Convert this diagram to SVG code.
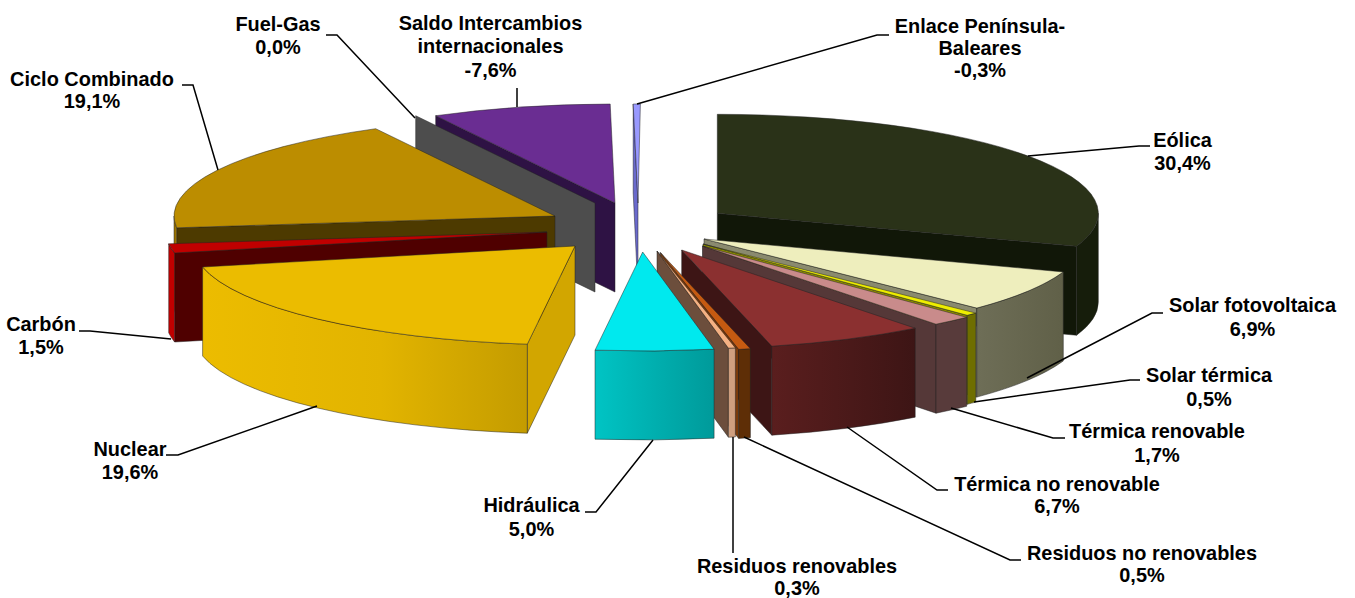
<svg xmlns="http://www.w3.org/2000/svg" width="1355" height="598" viewBox="0 0 1355 598">
<style>
.f{stroke:#222;stroke-width:0.7;stroke-linejoin:round;stroke-opacity:0.7}
.lbl{font-family:"Liberation Sans",Arial,"DejaVu Sans",sans-serif;font-weight:bold;font-size:21px;text-anchor:middle;fill:#000}
.ld{fill:none;stroke:#000;stroke-width:1.5;stroke-linejoin:miter}
</style>
<defs>
<linearGradient id="gNuc" x1="0" y1="0" x2="1" y2="0"><stop offset="0" stop-color="#ecbc00"/><stop offset="0.55" stop-color="#e2b400"/><stop offset="1" stop-color="#c49c00"/></linearGradient>
<linearGradient id="gHid" x1="0" y1="0" x2="1" y2="0"><stop offset="0" stop-color="#00c4c4"/><stop offset="1" stop-color="#009a9a"/></linearGradient>
<linearGradient id="gTnr" x1="0" y1="0" x2="1" y2="0"><stop offset="0" stop-color="#5a1e1e"/><stop offset="1" stop-color="#3d1515"/></linearGradient>
<linearGradient id="gSfv" x1="0" y1="0" x2="1" y2="0"><stop offset="0" stop-color="#6e6e57"/><stop offset="1" stop-color="#606048"/></linearGradient>
</defs>

<g id="slice-saldo">
<path class="f" fill="#2e1244" d="M615,203 L435.7,115.7 L435.7,204.7 L615,292 Z"/>
<path class="f" fill="#6a2d92" d="M615,203 L435.7,115.7 A381,99 0 0 1 610.2,104 Z"/>
</g>
<g id="slice-fuelgas">
<path class="f" fill="#4d4d4d" d="M595,203 L415.7,115.7 L415.7,204.7 L595,292 Z"/>
</g>
<g id="slice-ciclo">
<path class="f" fill="#4d3a00" d="M555,216 L176.7,227.8 L176.7,316.8 L555,305 Z"/>
<path class="f" fill="#9b7400" d="M176.7,227.8 A381,99 0 0 1 174,216 L174,305 A381,99 0 0 0 176.7,316.8 Z"/>
<path class="f" fill="#bc8d00" d="M555,216 L176.7,227.8 A381,99 0 0 1 375.7,128.7 Z"/>
</g>
<g id="slice-carbon">
<path class="f" fill="#4f0000" d="M547,232 L174.6,253 L174.6,342 L547,321 Z"/>
<path class="f" fill="#c00000" d="M174.6,253 A381,99 0 0 1 168.7,243.8 L168.7,332.8 A381,99 0 0 0 174.6,342 Z"/>
<path class="f" fill="#c00000" d="M547,232 L174.6,253 A381,99 0 0 1 168.7,243.8 Z"/>
</g>
<g id="slice-nuclear">
<path class="f" fill="#d2a600" d="M575,246 L527.3,344.2 L527.3,433.2 L575,335 Z"/>
<path class="f" fill="url(#gNuc)" d="M527.3,344.2 A381,99 0 0 1 202.6,267 L202.6,356 A381,99 0 0 0 527.3,433.2 Z"/>
<path class="f" fill="#ebbc00" d="M575,246 L527.3,344.2 A381,99 0 0 1 202.6,267 Z"/>
</g>
<g id="slice-enlace">
<path class="f" fill="#6a6acc" d="M638,203 L633.2,104 L633.2,193 L638,292 Z"/>
<path class="f" fill="#9999ff" d="M638,203 L633.2,104 A381,99 0 0 1 640.4,104 Z"/>
</g>
<g id="slice-eolica">
<path class="f" fill="#111708" d="M717.3,213.3 L1076.6,246.25 L1076.6,335.25 L717.3,302.3 Z"/>
<path class="f" fill="#161d0b" d="M1098.3,213.3 A381,99 0 0 1 1076.6,246.25 L1076.6,335.25 A381,99 0 0 0 1098.3,302.3 Z"/>
<path class="f" fill="#2a3218" d="M717.3,213.3 L717.3,114.3 A381,99 0 0 1 1076.6,246.25 Z"/>
</g>
<g id="slice-solarfv">
<path class="f" fill="#8a8a6e" d="M704,239 L976.8,308.1 L976.8,397.1 L704,328 Z"/>
<path class="f" fill="url(#gSfv)" d="M1063.3,271.95 A381,99 0 0 1 976.8,308.1 L976.8,397.1 A381,99 0 0 0 1063.3,360.95 Z"/>
<path class="f" fill="#eeeebd" d="M704,239 L1063.3,271.95 A381,99 0 0 1 976.8,308.1 Z"/>
</g>
<g id="slice-solartermica">
<path class="f" fill="#8a8a00" d="M703,244 L967.2,315.3 L967.2,404.3 L703,333 Z"/>
<path class="f" fill="#6e6e00" d="M975.8,313.1 A381,99 0 0 1 967.2,315.3 L967.2,404.3 A381,99 0 0 0 975.8,402.1 Z"/>
<path class="f" fill="#eeee00" d="M703,244 L975.8,313.1 A381,99 0 0 1 967.2,315.3 Z"/>
</g>
<g id="slice-termicarenovable">
<path class="f" fill="#553838" d="M702.5,246 L936,324.2 L936,413.2 L702.5,335 Z"/>
<path class="f" fill="#583b3b" d="M966.7,317.3 A381,99 0 0 1 936,324.2 L936,413.2 A381,99 0 0 0 966.7,406.3 Z"/>
<path class="f" fill="#c98b8b" d="M702.5,246 L966.7,317.3 A381,99 0 0 1 936,324.2 Z"/>
</g>
<g id="slice-termicanorenovable">
<path class="f" fill="#3d1515" d="M681.7,250 L771.8,346.2 L771.8,435.2 L681.7,339 Z"/>
<path class="f" fill="url(#gTnr)" d="M915.2,328.2 A381,99 0 0 1 771.8,346.2 L771.8,435.2 A381,99 0 0 0 915.2,417.2 Z"/>
<path class="f" fill="#8b3030" d="M681.7,250 L915.2,328.2 A381,99 0 0 1 771.8,346.2 Z"/>
</g>
<g id="slice-residuosnorenovables">
<path class="f" fill="#7a3a0a" d="M660.3,252.5 L738.7,349.4 L738.7,438.4 L660.3,341.5 Z"/>
<path class="f" fill="#5e2e06" d="M750.4,348.7 A381,99 0 0 1 738.7,349.4 L738.7,438.4 A381,99 0 0 0 750.4,437.7 Z"/>
<path class="f" fill="#c55a11" d="M660.3,252.5 L750.4,348.7 A381,99 0 0 1 738.7,349.4 Z"/>
</g>
<g id="slice-residuosrenovables">
<path class="f" fill="#6c4e3c" d="M657,251 L728.4,348.2 L728.4,437.2 L657,340 Z"/>
<path class="f" fill="#cf9f7f" d="M735.4,347.9 A381,99 0 0 1 728.4,348.2 L728.4,437.2 A381,99 0 0 0 735.4,436.9 Z"/>
<path class="f" fill="#f4b183" d="M657,251 L735.4,347.9 A381,99 0 0 1 728.4,348.2 Z"/>
</g>
<g id="slice-hidraulica">
<path class="f" fill="url(#gHid)" d="M714.1,349.2 A381,99 0 0 1 595,350.2 L595,439.2 A381,99 0 0 0 714.1,438.2 Z"/>
<path class="f" fill="#00e9ee" d="M642.7,252 L714.1,349.2 A381,99 0 0 1 595,350.2 Z"/>
</g>

<g id="connectors">
<path class="ld" d="M326,35 L337,35 L415,118"/>
<path class="ld" d="M517,88 L517,107"/>
<path class="ld" d="M637,104 L877,35 L889,35"/>
<path class="ld" d="M182,85 L193,85 L218,170"/>
<path class="ld" d="M1028,156 L1139,146 L1150,146"/>
<path class="ld" d="M1027,378 L1152,313 L1163,313"/>
<path class="ld" d="M974,402 L1130,380 L1140,380"/>
<path class="ld" d="M951,408 L1053,438 L1065,438"/>
<path class="ld" d="M847,427 L937,490 L948,490"/>
<path class="ld" d="M744,437 L1010,560 L1021,560"/>
<path class="ld" d="M733,437 L733,553"/>
<path class="ld" d="M653,440 L596,512 L585,512"/>
<path class="ld" d="M317,406 L178,455 L166,455"/>
<path class="ld" d="M171,339 L90,331 L79,331"/>
</g>

<g id="label-fuelgas"><text class="lbl" x="278" y="31" textLength="85.2" lengthAdjust="spacingAndGlyphs">Fuel-Gas</text><text class="lbl" x="278" y="54" textLength="45.4" lengthAdjust="spacingAndGlyphs">0,0%</text></g>
<g id="label-saldo"><text class="lbl" x="490.5" y="30" textLength="183.6" lengthAdjust="spacingAndGlyphs">Saldo Intercambios</text><text class="lbl" x="490.5" y="53" textLength="146" lengthAdjust="spacingAndGlyphs">internacionales</text><text class="lbl" x="490.5" y="76.5" textLength="52" lengthAdjust="spacingAndGlyphs">-7,6%</text></g>
<g id="label-enlace"><text class="lbl" x="980" y="32.5" textLength="170.3" lengthAdjust="spacingAndGlyphs">Enlace Península-</text><text class="lbl" x="980" y="55" textLength="83" lengthAdjust="spacingAndGlyphs">Baleares</text><text class="lbl" x="980" y="77" textLength="52" lengthAdjust="spacingAndGlyphs">-0,3%</text></g>
<g id="label-ciclo"><text class="lbl" x="92" y="86" textLength="163.8" lengthAdjust="spacingAndGlyphs">Ciclo Combinado</text><text class="lbl" x="92" y="108" textLength="56.4" lengthAdjust="spacingAndGlyphs">19,1%</text></g>
<g id="label-eolica"><text class="lbl" x="1182.5" y="146.5" textLength="58.6" lengthAdjust="spacingAndGlyphs">Eólica</text><text class="lbl" x="1182.5" y="169.5" textLength="56.4" lengthAdjust="spacingAndGlyphs">30,4%</text></g>
<g id="label-solarfv"><text class="lbl" x="1252.5" y="312" textLength="167" lengthAdjust="spacingAndGlyphs">Solar fotovoltaica</text><text class="lbl" x="1252.5" y="336" textLength="45.4" lengthAdjust="spacingAndGlyphs">6,9%</text></g>
<g id="label-solartermica"><text class="lbl" x="1209" y="381.5" textLength="126.1" lengthAdjust="spacingAndGlyphs">Solar térmica</text><text class="lbl" x="1209" y="405.5" textLength="45.4" lengthAdjust="spacingAndGlyphs">0,5%</text></g>
<g id="label-termicarenovable"><text class="lbl" x="1157" y="438" textLength="175.9" lengthAdjust="spacingAndGlyphs">Térmica renovable</text><text class="lbl" x="1157" y="461.5" textLength="45.4" lengthAdjust="spacingAndGlyphs">1,7%</text></g>
<g id="label-termicanorenovable"><text class="lbl" x="1057" y="490.5" textLength="205.7" lengthAdjust="spacingAndGlyphs">Térmica no renovable</text><text class="lbl" x="1057" y="512.5" textLength="45.4" lengthAdjust="spacingAndGlyphs">6,7%</text></g>
<g id="label-residuosnorenovables"><text class="lbl" x="1142" y="560" textLength="230" lengthAdjust="spacingAndGlyphs">Residuos no renovables</text><text class="lbl" x="1142" y="582" textLength="45.4" lengthAdjust="spacingAndGlyphs">0,5%</text></g>
<g id="label-residuosrenovables"><text class="lbl" x="797" y="572.5" textLength="200.2" lengthAdjust="spacingAndGlyphs">Residuos renovables</text><text class="lbl" x="797" y="595" textLength="45.4" lengthAdjust="spacingAndGlyphs">0,3%</text></g>
<g id="label-hidraulica"><text class="lbl" x="531.5" y="511.5" textLength="96.2" lengthAdjust="spacingAndGlyphs">Hidráulica</text><text class="lbl" x="531.5" y="535.5" textLength="45.4" lengthAdjust="spacingAndGlyphs">5,0%</text></g>
<g id="label-nuclear"><text class="lbl" x="130" y="456" textLength="73" lengthAdjust="spacingAndGlyphs">Nuclear</text><text class="lbl" x="130" y="479" textLength="56.4" lengthAdjust="spacingAndGlyphs">19,6%</text></g>
<g id="label-carbon"><text class="lbl" x="41" y="331" textLength="69.7" lengthAdjust="spacingAndGlyphs">Carbón</text><text class="lbl" x="41" y="354" textLength="45.4" lengthAdjust="spacingAndGlyphs">1,5%</text></g>
</svg>
